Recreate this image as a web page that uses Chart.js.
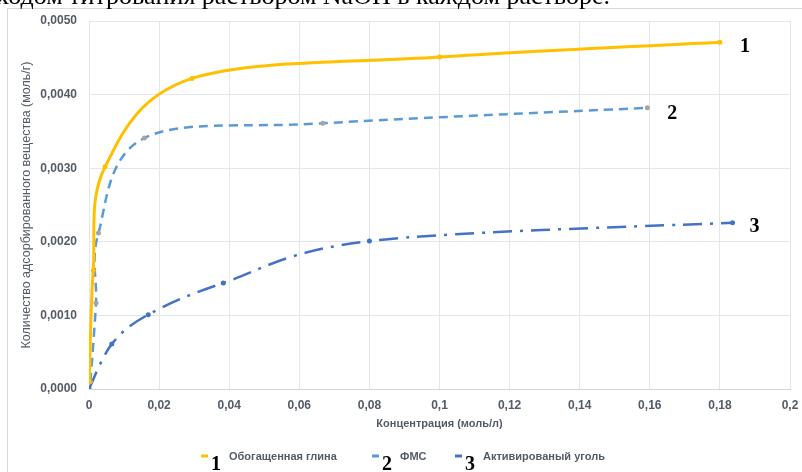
<!DOCTYPE html>
<html lang="ru">
<head>
<meta charset="utf-8">
<script src="https://cdn.jsdelivr.net/npm/chart.js@4.4.1/dist/chart.umd.min.js"></script>
<style>
  html, body { margin: 0; padding: 0; background: #ffffff; }
  #wrap { position: relative; width: 802px; height: 472px; overflow: hidden; }
  #doc-line {
    position: absolute; top: -17px; right: 192px; white-space: nowrap;
    font-family: "Liberation Serif", "Times New Roman", serif; font-size: 26px; line-height: 26px;
    color: #000; z-index: 2;
  }
  canvas { position: absolute; left: 0; top: 0; }
</style>
</head>
<body>
<div id="wrap">
  <div id="doc-line">ходом титрования раствором NaOH в каждом растворе.</div>
  <canvas id="c" width="802" height="472"></canvas>
</div>
<script>
// Series names and curve numbers
const seriesNames = ['Обогащенная глина', 'ФМС', 'Активированый уголь'];
const seriesNumbers = ['1', '2', '3'];

// Обогащенная глина
const clayX = [0.0001, 0.0012, 0.0046, 0.0294, 0.1, 0.18];
const clayY = [0.0001, 0.00161, 0.00302, 0.00422, 0.00451, 0.00471];

// ФМС
const fmsX = [0.0004, 0.002, 0.0027, 0.0158, 0.0667, 0.1593];
const fmsY = [0.0001, 0.00117, 0.00212, 0.00341, 0.00361, 0.00382];

// Активированый уголь
const carbonX = [0, 0.0065, 0.0169, 0.0383, 0.08, 0.1836];
const carbonY = [0, 0.00061, 0.00101, 0.00144, 0.00201, 0.00226];

// Tick labels
const xTickLabels = ['0', '0,02', '0,04', '0,06', '0,08', '0,1', '0,12', '0,14', '0,16', '0,18', '0,2'];
const yTickLabels = ['0,0000', '0,0010', '0,0020', '0,0030', '0,0040', '0,0050'];

const xTitle = 'Концентрация (моль/л)';
const yTitle = 'Количество адсорбированного вещества (моль/г)';

const toPoints = (xs, ys) => xs.map((x, i) => ({ x: x, y: ys[i] }));

const colors = {
  clay: '#FFC000',
  fms: '#5B9BD5',
  fmsMarker: '#A5A5A5',
  carbon: '#4472C4',
  text: '#535B67',
  grid: '#E3E6EC',
  axis: '#CFD4DD',
  frame: '#D9D9D9'
};

const legendColors = [colors.clay, colors.fms, colors.carbon];

// White background and outer frame
const framePlugin = {
  id: 'frame',
  beforeDraw(chart) {
    const ctx = chart.ctx;
    ctx.save();
    ctx.fillStyle = '#ffffff';
    ctx.fillRect(0, 0, chart.width, chart.height);
    ctx.strokeStyle = colors.frame;
    ctx.lineWidth = 1;
    ctx.strokeRect(7.5, 8.5, chart.width, chart.height);
    ctx.restore();
  }
};

// Spreadsheet-style smoothing: each control point sits a sixth of the
// neighbour-to-neighbour span away from its point
const smoothPlugin = {
  id: 'smooth',
  beforeDatasetDraw(chart, args) {
    const meta = args.meta;
    meta.dataset.updateControlPoints(chart.chartArea, meta.indexAxis);
    const pts = meta.data;
    const n = pts.length;
    for (let i = 0; i < n; i++) {
      const p = pts[i];
      const prev = pts[Math.max(i - 1, 0)];
      const next = pts[Math.min(i + 1, n - 1)];
      const dx = (next.x - prev.x) / 6;
      const dy = (next.y - prev.y) / 6;
      p.cp1x = p.x - dx; p.cp1y = p.y - dy;
      p.cp2x = p.x + dx; p.cp2y = p.y + dy;
    }
  }
};

// Curve numbers next to the last point of each series, and the legend row
const labelsPlugin = {
  id: 'labels',
  afterDraw(chart) {
    const ctx = chart.ctx;
    const xs = chart.scales.x, ys = chart.scales.y;
    ctx.save();
    ctx.fillStyle = '#000';
    ctx.font = 'bold 20px "Liberation Serif", "Times New Roman", serif';
    ctx.textBaseline = 'middle';
    ctx.textAlign = 'left';
    const offsets = [[20, 4], [20, 6], [17, 4]];
    chart.data.datasets.forEach((ds, i) => {
      const last = ds.data[ds.data.length - 1];
      const px = xs.getPixelForValue(last.x) + offsets[i][0];
      const py = ys.getPixelForValue(last.y) + offsets[i][1];
      ctx.fillText(seriesNumbers[i], px, py);
    });

    // Legend
    const starts = [201, 372, 455];
    const legendY = 456;
    seriesNames.forEach((name, i) => {
      const x0 = starts[i];
      ctx.strokeStyle = legendColors[i];
      ctx.lineWidth = 3;
      ctx.beginPath();
      ctx.moveTo(x0, legendY);
      ctx.lineTo(x0 + 7, legendY);
      ctx.stroke();
      ctx.fillStyle = '#000';
      ctx.font = 'bold 20px "Liberation Serif", "Times New Roman", serif';
      ctx.textBaseline = 'alphabetic';
      ctx.fillText(seriesNumbers[i], x0 + 10, 470);
      ctx.fillStyle = colors.text;
      ctx.font = 'bold 11px "Liberation Sans", Arial, sans-serif';
      ctx.textBaseline = 'middle';
      ctx.fillText(name, x0 + 28, legendY + 1);
    });
    ctx.restore();
  }
};

const tickFont = { family: '"Liberation Sans", Arial, sans-serif', size: 12, weight: 'bold' };

new Chart(document.getElementById('c'), {
  type: 'scatter',
  data: {
    datasets: [
      {
        label: seriesNames[0],
        data: toPoints(clayX, clayY),
        showLine: true,
        borderColor: colors.clay,
        backgroundColor: colors.clay,
        borderWidth: 3,
        pointRadius: 2.5,
        pointBorderWidth: 0,
        tension: 0.4
      },
      {
        label: seriesNames[1],
        data: toPoints(fmsX, fmsY),
        showLine: true,
        borderColor: colors.fms,
        backgroundColor: colors.fmsMarker,
        pointBorderColor: colors.fmsMarker,
        borderWidth: 2.5,
        borderDash: [9, 6],
        pointRadius: 2.5,
        pointBorderWidth: 0,
        tension: 0.4
      },
      {
        label: seriesNames[2],
        data: toPoints(carbonX, carbonY),
        showLine: true,
        borderColor: colors.carbon,
        backgroundColor: colors.carbon,
        borderWidth: 2.5,
        borderDash: [19, 8, 3, 8],
        pointRadius: 2.5,
        pointBorderWidth: 0,
        tension: 0.4
      }
    ]
  },
  options: {
    responsive: false,
    animation: false,
    layout: { padding: { left: 19, right: 12, top: 21, bottom: 41 } },
    plugins: {
      legend: { display: false },
      tooltip: { enabled: false }
    },
    scales: {
      x: {
        type: 'linear',
        min: 0,
        max: 0.2,
        afterFit(s) { s.height = 42; s.paddingLeft = 0; s.paddingRight = 0; },
        afterBuildTicks(s) { s.ticks = xTickLabels.map((_, i) => ({ value: i * 0.02 })); },
        ticks: {
          padding: 9,
          color: colors.text,
          font: tickFont,
          maxRotation: 0,
          autoSkip: false,
          callback: (v, i) => xTickLabels[i]
        },
        grid: { color: colors.grid, lineWidth: 1, drawTicks: false },
        border: { color: colors.axis, width: 1 },
        title: {
          display: true,
          text: xTitle,
          color: colors.text,
          font: { family: '"Liberation Sans", Arial, sans-serif', size: 11, weight: 'bold' },
          padding: { top: 0, bottom: 0 }
        }
      },
      y: {
        type: 'linear',
        min: 0,
        max: 0.005,
        afterFit(s) { s.width = 70; s.paddingTop = 0; s.paddingBottom = 0; },
        afterBuildTicks(s) { s.ticks = yTickLabels.map((_, i) => ({ value: i * 0.001 })); },
        ticks: {
          padding: 12,
          color: colors.text,
          font: tickFont,
          autoSkip: false,
          callback: (v, i) => yTickLabels[i]
        },
        grid: { color: colors.grid, lineWidth: 1, drawTicks: false },
        border: { color: colors.grid, width: 1 },
        title: {
          display: true,
          text: yTitle,
          color: colors.text,
          font: { family: '"Liberation Sans", Arial, sans-serif', size: 12.5, weight: 'normal' },
          padding: { top: 0, bottom: 0 }
        }
      }
    }
  },
  plugins: [framePlugin, smoothPlugin, labelsPlugin]
});
</script>
</body>
</html>
